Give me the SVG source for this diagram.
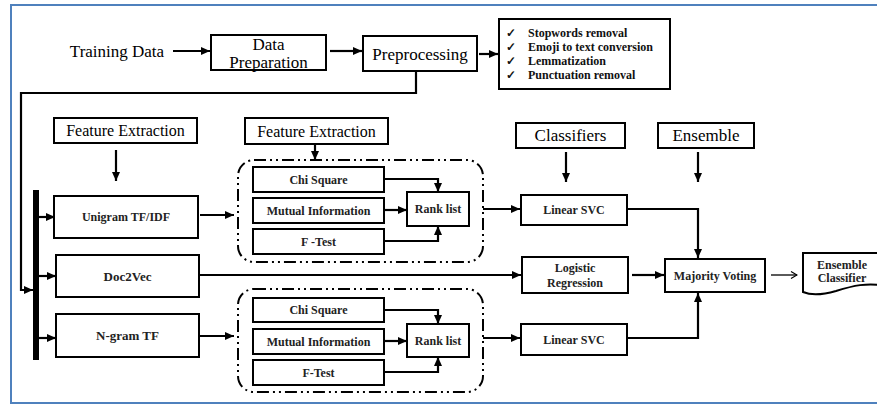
<svg xmlns="http://www.w3.org/2000/svg" width="877" height="405" viewBox="0 0 877 405" font-family="Liberation Serif, Times New Roman, serif">
<defs>
<marker id="ah" markerWidth="9" markerHeight="8" refX="9" refY="4" orient="auto" markerUnits="userSpaceOnUse"><path d="M0,0 L9,4 L0,8 z" fill="#000"/></marker>
<marker id="oh" markerWidth="8" markerHeight="8" refX="7" refY="4" orient="auto" markerUnits="userSpaceOnUse"><path d="M1,0.5 L7,4 L1,7.5" fill="none" stroke="#000" stroke-width="1.2"/></marker>
<style>
.box{fill:#fff;stroke:#000;stroke-width:2}
.dash{fill:none;stroke:#000;stroke-width:2;stroke-dasharray:12 4 2 4 2 4}
.ca{fill:none;stroke:#000;stroke-width:2.2;marker-end:url(#ah)}
.big{font-size:17px;fill:#000;text-anchor:middle;dominant-baseline:central}
.sm{font-size:12px;font-weight:bold;fill:#222;text-anchor:middle;dominant-baseline:central}
.lst{font-size:12px;font-weight:bold;fill:#111;dominant-baseline:central}
</style>
</defs>
<rect x="11" y="5" width="890" height="398" fill="#fff" stroke="#4f81bd" stroke-width="2"/>

<g id="training-data"><text class="big" x="117" y="51" font-family="Liberation Serif">Training Data</text></g>
<g id="data-preparation"><rect class="box" x="211" y="35" width="115" height="35"/><text class="big" x="268.5" y="44">Data</text><text class="big" x="268.5" y="62">Preparation</text></g>
<g id="preprocessing"><rect class="box" x="363" y="36" width="114" height="35"/><text class="big" x="420" y="54">Preprocessing</text></g>
<g id="checklist"><rect class="box" x="499" y="19" width="171" height="70"/>
<text class="lst" x="506" y="33">✓</text><text class="lst" x="528" y="33">Stopwords removal</text>
<text class="lst" x="506" y="47">✓</text><text class="lst" x="528" y="47">Emoji to text conversion</text>
<text class="lst" x="506" y="61">✓</text><text class="lst" x="528" y="61">Lemmatization</text>
<text class="lst" x="506" y="75">✓</text><text class="lst" x="528" y="75">Punctuation removal</text></g>

<g id="feature-extraction-1"><rect class="box" x="54" y="118" width="143" height="25"/><text class="big" style="font-size:16px" x="125.5" y="130.5">Feature Extraction</text></g>
<g id="feature-extraction-2"><rect class="box" x="245" y="118" width="143" height="26"/><text class="big" style="font-size:16px" x="316.5" y="131">Feature Extraction</text></g>
<g id="classifiers"><rect class="box" x="516" y="123" width="109" height="25"/><text class="big" x="570.5" y="135.5">Classifiers</text></g>
<g id="ensemble"><rect class="box" x="658" y="123" width="96" height="25"/><text class="big" x="706" y="135.5">Ensemble</text></g>

<g id="bus"><rect x="33" y="190" width="6" height="170" fill="#000"/></g>
<g id="unigram"><rect class="box" x="54" y="196" width="144" height="42"/><text class="sm" x="126" y="217">Unigram TF/IDF</text></g>
<g id="doc2vec"><rect class="box" x="56" y="255" width="143" height="42"/><text class="sm" style="font-size:13px" x="127.5" y="276">Doc2Vec</text></g>
<g id="ngram"><rect class="box" x="56" y="314" width="143" height="43"/><text class="sm" style="font-size:13px" x="127.5" y="335.5">N-gram TF</text></g>

<g id="selection-upper"><rect class="dash" x="238" y="160" width="245" height="102" rx="16"/>
<rect class="box" x="253" y="167" width="131" height="25"/><text class="sm" x="318.5" y="179.5">Chi Square</text>
<rect class="box" x="253" y="198" width="131" height="25"/><text class="sm" x="318.5" y="210.5">Mutual Information</text>
<rect class="box" x="253" y="229" width="131" height="25"/><text class="sm" x="318.5" y="241.5">F -Test</text>
<rect class="box" x="407" y="192" width="62" height="34"/><text class="sm" x="438" y="209">Rank list</text></g>

<g id="selection-lower"><rect class="dash" x="238" y="289" width="245" height="103" rx="16"/>
<rect class="box" x="253" y="298" width="131" height="24"/><text class="sm" x="318.5" y="310">Chi Square</text>
<rect class="box" x="253" y="329" width="131" height="25"/><text class="sm" x="318.5" y="341.5">Mutual Information</text>
<rect class="box" x="253" y="360" width="131" height="25"/><text class="sm" x="318.5" y="372.5">F-Test</text>
<rect class="box" x="407" y="324" width="62" height="33"/><text class="sm" x="438" y="340.5">Rank list</text></g>

<g id="linear-svc-1"><rect class="box" x="521" y="195" width="106" height="30"/><text class="sm" x="574" y="210">Linear SVC</text></g>
<g id="logistic-regression"><rect class="box" x="522" y="257" width="106" height="36"/><text class="sm" x="575" y="268">Logistic</text><text class="sm" x="575" y="283">Regression</text></g>
<g id="linear-svc-2"><rect class="box" x="521" y="324" width="106" height="31"/><text class="sm" x="574" y="339.5">Linear SVC</text></g>
<g id="majority-voting"><rect class="box" x="665" y="259" width="100" height="33"/><text class="sm" x="715" y="275.5">Majority Voting</text></g>
<g id="ensemble-classifier"><path class="box" d="M803,253 H885 V286 C868,282 852,286 836,291 C822,295 810,295 803,292 Z"/><text class="sm" x="842" y="265">Ensemble</text><text class="sm" x="842" y="278">Classifier</text></g>

<g id="connectors">
<path class="ca" d="M173,51 H210"/>
<path class="ca" d="M330,51 H362"/>
<path class="ca" d="M479,54 H498"/>
<path class="ca" d="M416,71 V93 H21 V290 H33"/>
<path class="ca" d="M39,217 H55"/>
<path class="ca" d="M39,276 H56"/>
<path class="ca" d="M39,338 H56"/>
<path class="ca" d="M116,150 V181"/>
<path class="ca" d="M200,215 H234"/>
<path class="ca" d="M200,336 H234"/>
<path class="ca" d="M315,144 V160"/>
<path class="ca" d="M384,179 H438 V192"/>
<path class="ca" d="M384,210 H407"/>
<path class="ca" d="M384,241 H438 V226"/>
<path class="ca" d="M384,310 H438 V324"/>
<path class="ca" d="M384,341 H407"/>
<path class="ca" d="M384,372 H438 V357"/>
<path class="ca" d="M483,209 H520"/>
<path class="ca" d="M483,338 H520"/>
<path class="ca" d="M199,275 H521"/>
<path class="ca" d="M566,152 V182"/>
<path class="ca" d="M698,152 V182"/>
<path class="ca" d="M627,209 H698 V258"/>
<path class="ca" d="M632,275 H664"/>
<path class="ca" d="M627,338 H698 V293"/>
<path d="M771,275 H797" fill="none" stroke="#000" stroke-width="1.3" marker-end="url(#oh)"/>
</g>
</svg>
